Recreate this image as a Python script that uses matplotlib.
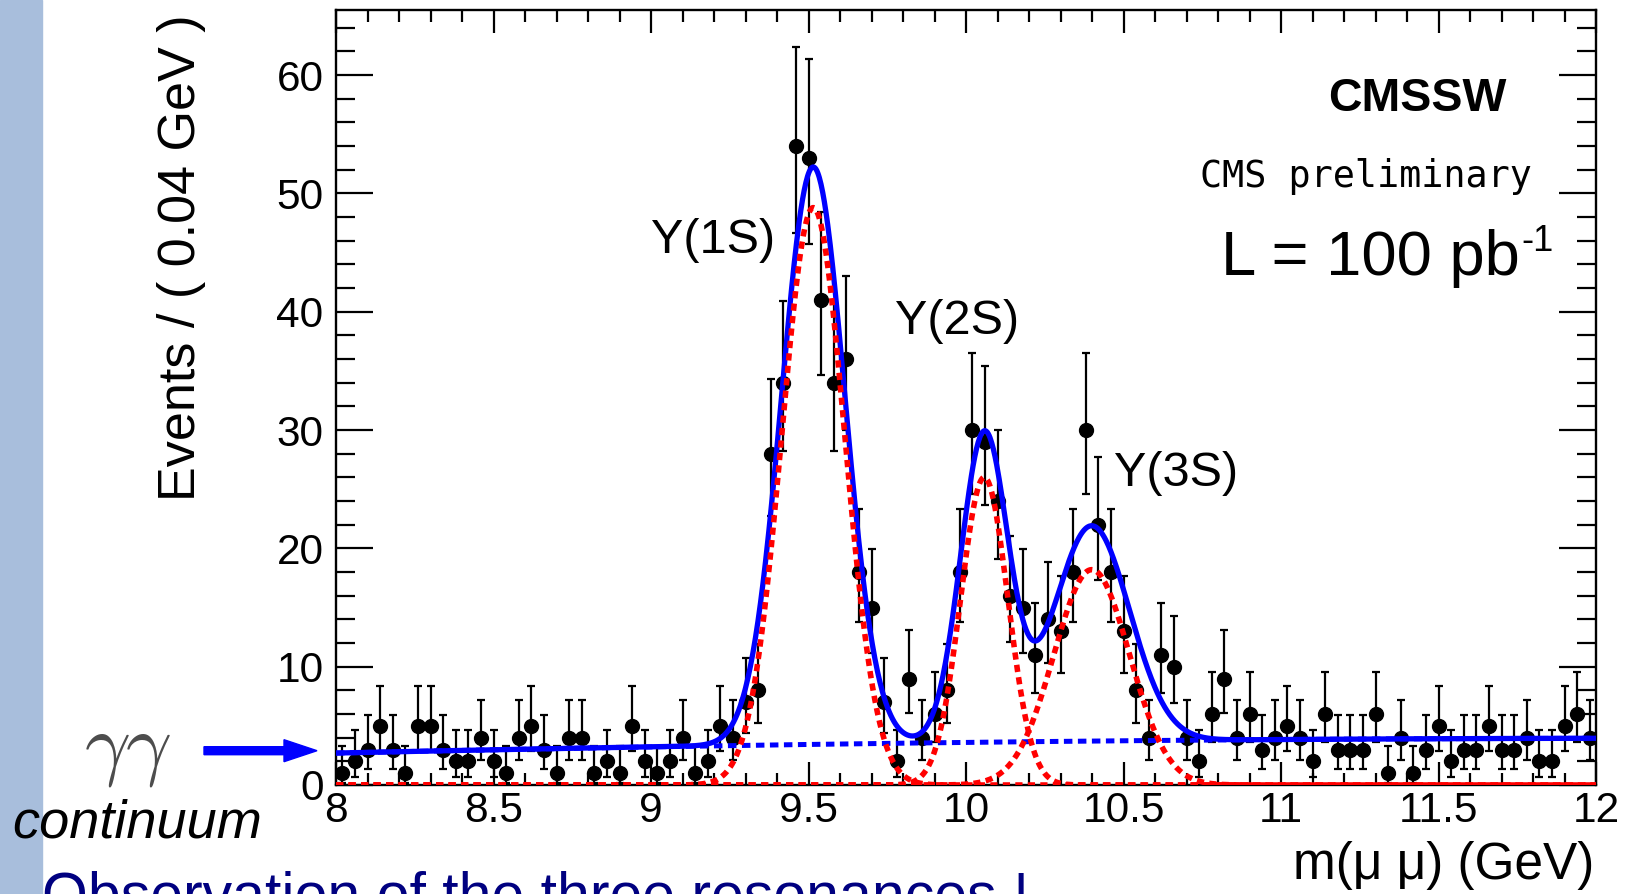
import numpy as np
import matplotlib.pyplot as plt
from matplotlib.ticker import MultipleLocator, FuncFormatter
from matplotlib.patches import Rectangle, FancyArrow

plt.rcParams['font.family'] = ['Liberation Sans', 'DejaVu Sans']

# events per 0.04 GeV bin, from 8 to 12 GeV
bin_lo = 8.0
bin_w = 0.04
counts = [1, 2, 3, 5, 3, 1, 5, 5, 3, 2,
          2, 4, 2, 1, 4, 5, 3, 1, 4, 4,
          1, 2, 1, 5, 2, 1, 2, 4, 1, 2,
          5, 4, 7, 8, 28, 34, 54, 53, 41, 34,
          36, 18, 15, 7, 2, 9, 4, 6, 8, 18,
          30, 29, 24, 16, 15, 11, 14, 13, 18, 30,
          22, 18, 13, 8, 4, 11, 10, 4, 2, 6,
          9, 4, 6, 3, 4, 5, 4, 2, 6, 3,
          3, 3, 6, 1, 4, 1, 3, 5, 2, 3,
          3, 5, 3, 3, 4, 2, 2, 5, 6, 4]

# fit result: three gaussians + quadratic continuum in (m - 8)
peak_names = ['Y(1S)', 'Y(2S)', 'Y(3S)']
peak_mass = [9.515, 10.058, 10.399]
peak_sigma = [0.100, 0.075, 0.120]
peak_height = [48.8, 26.0, 18.2]
bkg_coef = [2.70, 0.588, -0.069]
label_pos = [(9.0, 45.0), (9.775, 38.1), (10.47, 25.3)]

W, H = 1634, 894


def fx(px):
    return px / W


def fy(py):
    return 1 - py / H


def poisson_err(n):
    n = np.asarray(n, float)
    lo = n - n * (1 - 1 / (9 * n) - 1 / (3 * np.sqrt(n))) ** 3
    up = (n + 1) * (1 - 1 / (9 * (n + 1)) + 1 / (3 * np.sqrt(n + 1))) ** 3 - n
    return lo, up


fig = plt.figure(figsize=(W / 100, H / 100), dpi=100)
fig.patches.append(Rectangle((0, 0), fx(42), 1, transform=fig.transFigure,
                             color='#a8bedc', zorder=0))

ax = fig.add_axes([fx(336), fy(785), fx(1596) - fx(336), fy(10) - fy(785)])

centers = bin_lo + bin_w * (np.arange(len(counts)) + 0.5)
lo, up = poisson_err(counts)
ax.errorbar(centers, counts, yerr=[lo, up], fmt='o', color='black', ms=10,
            elinewidth=1.6, capsize=3, capthick=1.6, zorder=2)

m = np.linspace(8, 12, 1500)
t = m - 8
bkg = bkg_coef[0] + bkg_coef[1] * t + bkg_coef[2] * t ** 2
total = bkg.copy()
for mu, s, h in zip(peak_mass, peak_sigma, peak_height):
    g = h * np.exp(-0.5 * ((m - mu) / s) ** 2)
    total += g
    ax.plot(m, g, color='red', lw=4, ls=(0, (1.3, 0.95)), zorder=5)
ax.plot(m, bkg, color='blue', lw=3.6, ls=(0, (1.7, 1.1)), zorder=3)
ax.plot(m, total, color='blue', lw=3.8, zorder=4)

for name, (xx, yy) in zip(peak_names, label_pos):
    ax.text(xx, yy, name, fontsize=35, ha='left', va='baseline')

ax.set_xlim(8, 12)
ax.set_ylim(0, 65.5)
ax.xaxis.set_major_locator(MultipleLocator(0.5))
ax.xaxis.set_minor_locator(MultipleLocator(0.1))
ax.yaxis.set_major_locator(MultipleLocator(10))
ax.yaxis.set_minor_locator(MultipleLocator(2))
ax.xaxis.set_major_formatter(FuncFormatter(lambda v, p: f'{v:g}'))
ax.tick_params(which='both', direction='in', top=True, right=True, width=1.6,
               labelsize=30.5)
ax.tick_params(axis='x', which='major', length=16.5, pad=4)
ax.tick_params(axis='x', which='minor', length=8.3)
ax.tick_params(axis='y', which='major', length=26.6, pad=9)
ax.tick_params(axis='y', which='minor', length=13.7)
for sp in ax.spines.values():
    sp.set_linewidth(1.7)

# axis titles, ROOT style (aligned to the ends)
fig.text(fx(182), fy(14), 'Events / ( 0.04 GeV )', rotation=90, fontsize=37.5,
         ha='center', va='top')
fig.text(fx(1594), fy(865), 'm(\u03bc \u03bc) (GeV)', fontsize=37,
         ha='right', va='center')

fig.text(fx(1417), fy(99), 'CMSSW', fontsize=33.5, fontweight='bold',
         ha='center', va='center')
fig.text(fx(1366), fy(187), 'CMS preliminary', fontsize=26.5,
         family='DejaVu Sans Mono', ha='center', va='baseline')
fig.text(fx(1520), fy(275), 'L = 100 pb', fontsize=45.5, ha='right', va='baseline')
fig.text(fx(1521), fy(224), '-1', fontsize=26, ha='left', va='top')

# slide annotations on the left
fig.text(fx(128), fy(751), r'$\gamma\gamma$', math_fontfamily='cm', fontsize=58,
         color='#4d4d4d', ha='center', va='center')
fig.add_artist(FancyArrow(2.04, (H - 750.7) / 100, 1.13, 0, width=0.08,
                          head_width=0.22, head_length=0.33,
                          length_includes_head=True, color='blue',
                          transform=fig.dpi_scale_trans))
fig.text(fx(12), fy(838), 'continuum', fontsize=39, style='italic',
         ha='left', va='baseline')
fig.text(fx(42), fy(914), 'Observation of the three resonances !', fontsize=42.5,
         color='#000080', ha='left', va='baseline')

fig.savefig('out.png', dpi=100)
